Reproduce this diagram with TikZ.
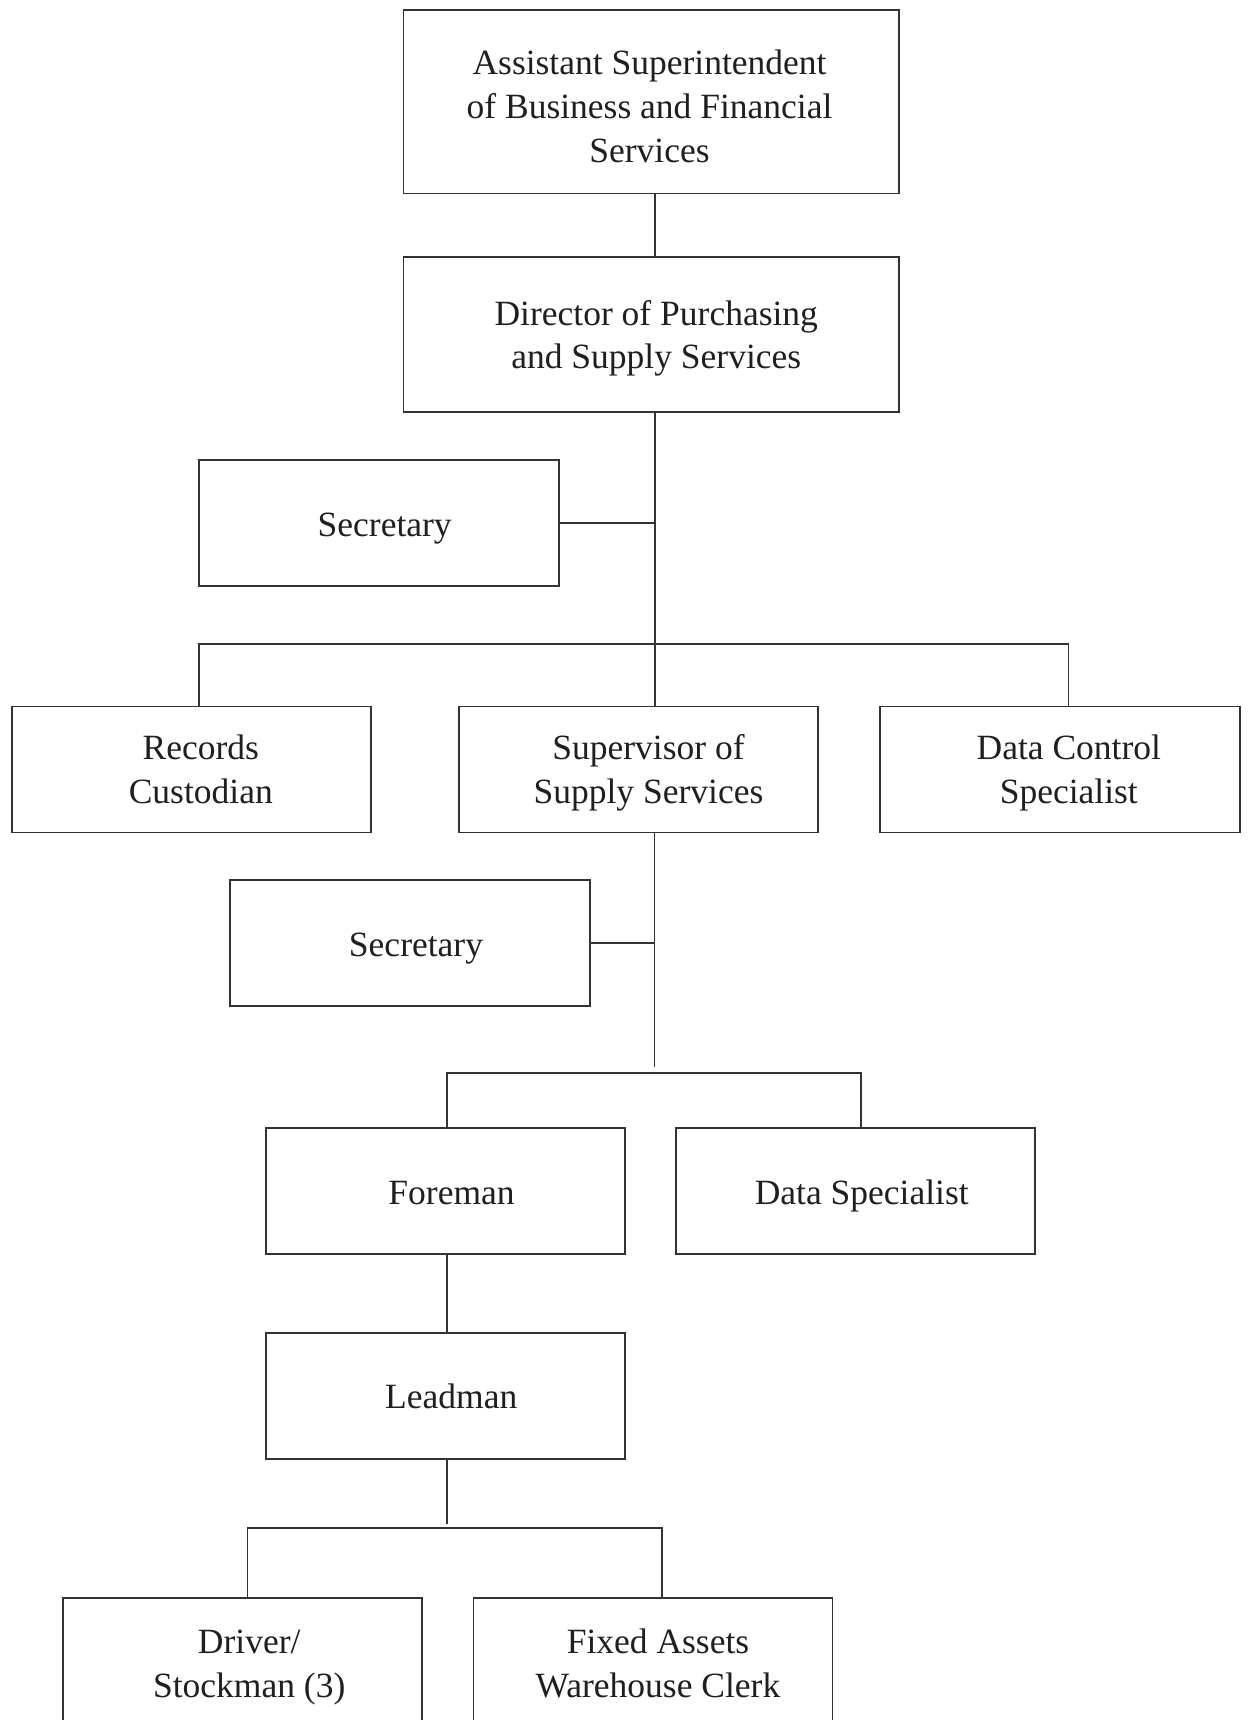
\documentclass[tikz,border=0pt]{standalone}
\usepackage{fontspec}
\setmainfont{Liberation Serif}
% invisible rule that fixes the height of a label's first line
\newcommand\lblstrut{\rule{0pt}{30pt}}
\begin{document}
\begin{tikzpicture}[x=1pt,y=-1pt,
  post/.style={draw=black!80, line width=1.7pt, fill=white,
    inner sep=0pt, minimum height=126pt, minimum width=359pt},
  lbl/.style={anchor=north, inner sep=0pt, align=center, text=black!88,
    font=\fontsize{35.5}{#1}\selectfont},
  lbl/.default=44,
  link/.style={draw=black!80, line width=1.7pt}]
\useasboundingbox (0,0) rectangle (1248,1720);

% boxes
\node[post, minimum width=495.5pt, minimum height=183.5pt] (top) at (651.25,101.75) {};
\node[post, minimum width=495.5pt, minimum height=155.6pt] (dir) at (651.25,334.5) {};
\node[post, minimum width=360pt] (sec1) at (379,523) {};
\node[post] (rec) at (191.5,769.5) {};
\node[post] (sup) at (638.5,769.5) {};
\node[post, minimum width=360pt] (dcs) at (1060,769.5) {};
\node[post, minimum width=360pt] (sec2) at (410,943) {};
\node[post] (fore) at (445.25,1191.3) {};
\node[post] (dspec) at (855.5,1191.3) {};
\node[post] (lead) at (445.25,1396) {};
\node[post] (drv) at (242.75,1661.3) {};
\node[post] (fix) at (653,1661.3) {};

% box titles
\node[lbl] (top-t) at ([shift={(-1.7,-57.5)}]top.center)
  {\lblstrut Assistant Superintendent\\of Business and Financial\\Services};
\node[lbl=43.5] (dir-t) at ([shift={(5,-39.5)}]dir.center)
  {\lblstrut Director of Purchasing\\ and Supply Services};
\node[lbl] (sec1-t) at ([shift={(5.7,-16.3)}]sec1.center) {\lblstrut Secretary};
\node[lbl] (rec-t) at ([shift={(9.3,-40)}]rec.center) {\lblstrut Records\\Custodian};
\node[lbl] (sup-t) at ([shift={(10,-40)}]sup.center) {\lblstrut Supervisor of\\Supply Services};
\node[lbl] (dcs-t) at ([shift={(8.8,-40)}]dcs.center) {\lblstrut Data Control\\Specialist};
\node[lbl] (sec2-t) at ([shift={(6,-16.3)}]sec2.center) {\lblstrut Secretary};
\node[lbl] (fore-t) at ([shift={(6.3,-17.3)}]fore.center) {\lblstrut Foreman};
\node[lbl] (dspec-t) at ([shift={(6.2,-17.3)}]dspec.center) {\lblstrut Data Specialist};
\node[lbl] (lead-t) at ([shift={(6,-17.7)}]lead.center) {\lblstrut Leadman};
\node[lbl] (drv-t) at ([shift={(6.5,-38)}]drv.center) {\lblstrut Driver/\\Stockman (3)};
\node[lbl] (fix-t) at ([shift={(5,-38)}]fix.center) {\lblstrut Fixed Assets\\Warehouse Clerk};

% guide coordinates for the connector runs
\coordinate (xa) at (655,0);
\coordinate (xb) at (654.5,0);
\coordinate (xr) at (199,0);
\coordinate (xd) at (1068.5,0);
\coordinate (xf) at (447,0);
\coordinate (xs) at (861,0);
\coordinate (xl) at (247.6,0);
\coordinate (xx) at (661.9,0);
\coordinate (h1) at (0,644);
\coordinate (h2) at (0,1073);
\coordinate (h3) at (0,1528);
\coordinate (e1) at (654.5,1067);
\coordinate (e2) at (447,1524);

% connectors
\draw[link] (top.south -| xa) -- (dir.north -| xa);
\draw[link] (dir.south -| xa) -- (sup.north -| xa);
\draw[link] (sec1.east) -- (sec1.east -| xa);
\draw[link] (rec.north -| xr) |- (h1 -| xd) -- (dcs.north -| xd);

\draw[link] (sup.south -| xb) -- (e1);
\draw[link] (sec2.east) -- (sec2.east -| xb);
\draw[link] (fore.north -| xf) |- (h2 -| xs) -- (dspec.north -| xs);

\draw[link] (fore.south -| xf) -- (lead.north -| xf);
\draw[link] (lead.south -| xf) -- (e2);
\draw[link] (drv.north -| xl) |- (h3 -| xx) -- (fix.north -| xx);
\end{tikzpicture}
\end{document}
